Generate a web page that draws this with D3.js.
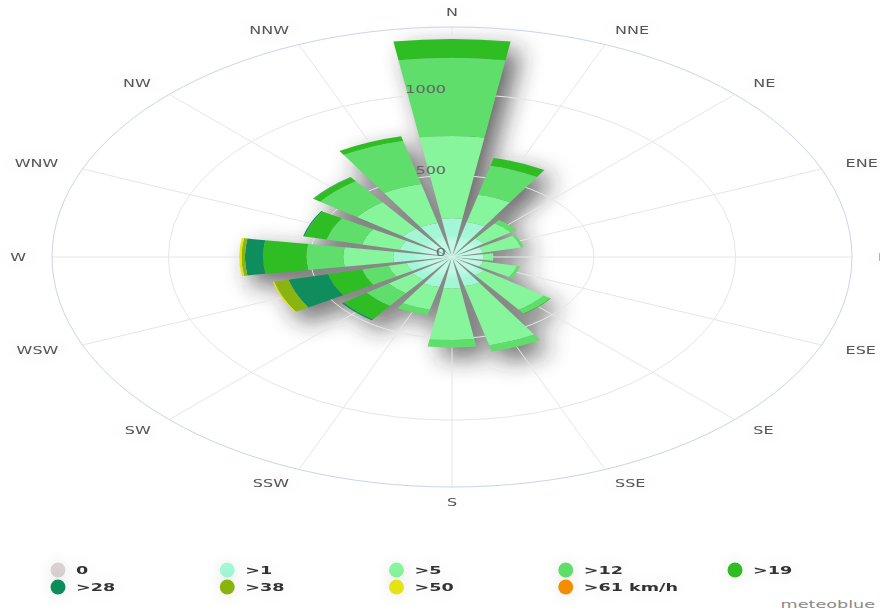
<!DOCTYPE html>
<html><head><meta charset="utf-8">
<script src="https://cdn.jsdelivr.net/npm/d3@7"></script>
<style>
html,body{margin:0;padding:0;background:#fff;}
svg{display:block;font-family:"DejaVu Sans",Verdana,sans-serif;}
</style></head><body>
<svg id="chart" width="880" height="616"></svg>
<script>
// ---- data ----
const directions = ["N","NNE","NE","ENE","E","ESE","SE","SSE","S","SSW","SW","WSW","W","WNW","NW","NNW"];
const speedBins = ["0", ">1", ">5", ">12", ">19", ">28", ">38", ">50", ">61 km/h"];
const calm   = [0,0,0,0,0,0,0,0,0,0,0,0,0,0,0,0];
const over1  = [237,220,140,113,110,112,140,185,192,190,172,165,207,190,215,215];
const over5  = [505,173,116,137,36,123,260,371,317,143,104,65,176,136,200,245];
const over12 = [479,182,25,10,0,12,28,40,47,35,96,96,130,129,160,272];
const over19 = [116,50,0,0,0,0,4,0,0,0,100,124,153,80,30,30];
const over28 = [0,0,0,0,0,0,0,0,0,0,8,143,64,5,2,0];
const over38 = [0,0,0,0,0,0,0,0,0,0,0,52,12,0,0,0];
const over50 = [0,0,0,0,0,0,0,0,0,0,0,5,8,0,0,0];
const over61 = [0,0,0,0,0,0,0,0,0,0,0,0,0,0,0,0];
const radialTicks = [0, 500, 1000];
const binColors = ["#d8d2d2","#a3f7d6","#87f59b","#5fde6b","#2ebd22","#108d5c","#8ab40f","#e5e216","#f28e05"];

// ---- layout ----
const cx = 452, cy = 257, R = 230, sx = 1.739, tsx = 1.6, maxVal = 1410, labelR = 245;
const series = [calm, over1, over5, over12, over19, over28, over38, over50, over61];
const rows = directions.map((d, i) => {
  const o = {dir: d};
  speedBins.forEach((b, k) => o[b] = series[k][i]);
  return o;
});
const stacked = d3.stack().keys(speedBins)(rows);

const svg = d3.select("#chart");
const defs = svg.append("defs");
const fb = defs.append("filter").attr("id","shadowBlur")
  .attr("x","-60%").attr("y","-60%").attr("width","220%").attr("height","220%");
fb.append("feGaussianBlur").attr("stdDeviation","7 12");

const halo = defs.append("filter").attr("id","halo")
  .attr("x","-100%").attr("y","-150%").attr("width","300%").attr("height","400%");
halo.append("feGaussianBlur").attr("in","SourceAlpha").attr("stdDeviation","7").attr("result","b");
halo.append("feColorMatrix").attr("in","b").attr("type","matrix")
  .attr("values","0 0 0 0 0  0 0 0 0 0  0 0 0 0 0  0 0 0 0.10 0").attr("result","s");
const hm = halo.append("feMerge");
hm.append("feMergeNode").attr("in","s");
hm.append("feMergeNode").attr("in","SourceGraphic");

const rScale = d3.scaleLinear().domain([0, maxVal]).range([0, R]);
const angle = d3.scaleBand().domain(directions)
  .range([-Math.PI/16, 2*Math.PI - Math.PI/16]).paddingInner(0.21).paddingOuter(0.105);

const grad = defs.append("radialGradient").attr("id","innerGrad")
  .attr("gradientUnits","userSpaceOnUse").attr("cx",0).attr("cy",0).attr("r", rScale(240));
[[0,"#c6faea"],[0.38,"#c0f9e6"],[0.58,"#a3f7d6"],[1,"#a3f7d6"]].forEach(([o,c]) =>
  grad.append("stop").attr("offset", o).attr("stop-color", c));

const arc = d3.arc()
  .innerRadius(d => rScale(d[0]))
  .outerRadius(d => rScale(d[1]))
  .startAngle(d => angle(d.data.dir))
  .endAngle(d => angle(d.data.dir) + angle.bandwidth());

const centerAngle = d => angle(d) + angle.bandwidth()/2;

// ---- shadow ----
const shadowG = svg.append("g")
  .attr("transform", `translate(${cx+11},${cy+10}) scale(${sx},1)`)
  .attr("filter","url(#shadowBlur)").attr("opacity",0.68);
shadowG.selectAll("path").data(stacked[stacked.length-1])
  .join("path").attr("d", d => arc({0:0, 1:d[1], data:d.data})).attr("fill","#222");

// ---- grid ----
const grid = svg.append("g");
grid.selectAll("ellipse.ring").data(radialTicks.filter(v => v > 0)).join("ellipse")
  .attr("cx", cx).attr("cy", cy)
  .attr("rx", v => rScale(v)*sx).attr("ry", v => rScale(v))
  .attr("fill","none").attr("stroke","#e6e6e6").attr("stroke-width",1);
grid.selectAll("line.spoke").data(directions).join("line")
  .attr("x1", cx).attr("y1", cy)
  .attr("x2", d => cx + R*Math.sin(centerAngle(d))*sx)
  .attr("y2", d => cy - R*Math.cos(centerAngle(d)))
  .attr("stroke","#e6e6e6").attr("stroke-width",1);
grid.append("ellipse").attr("cx",cx).attr("cy",cy).attr("rx",R*sx).attr("ry",R)
  .attr("fill","none").attr("stroke","#ccd3ec").attr("stroke-width",1);

// ---- bars ----
const barsG = svg.append("g").attr("transform", `translate(${cx},${cy}) scale(${sx},1)`);
barsG.selectAll("g.layer").data(stacked).join("g")
  .attr("fill", (s, k) => k === 1 ? "url(#innerGrad)" : binColors[k])
  .selectAll("path").data(s => s.filter(d => d[1] - d[0] > 0))
  .join("path").attr("d", arc);

// ---- direction labels ----
svg.append("g").selectAll("g").data(directions).join("g")
  .attr("transform", d => {
    const a = centerAngle(d);
    return `translate(${cx + labelR*Math.sin(a)*sx},${cy - labelR*Math.cos(a)}) scale(${tsx},1)`;
  })
  .append("text")
  .attr("text-anchor", d => {
    const s = Math.sin(centerAngle(d));
    return s > 0.01 ? "start" : (s < -0.01 ? "end" : "middle");
  })
  .attr("dy","0.35em").attr("font-size",10).attr("fill","#555")
  .attr("filter","url(#halo)")
  .text(d => d);

// ---- radial tick labels ----
svg.append("g").selectAll("g").data(radialTicks).join("g")
  .attr("transform", v => `translate(${cx-6},${cy - rScale(v) - 1}) scale(${tsx},1)`)
  .append("text").attr("text-anchor","end").attr("font-size",10).attr("fill","#666")
  .text(v => v);

// ---- legend ----
const legX = d3.scalePoint().domain(d3.range(5)).range([58, 735]);
const legend = svg.append("g").selectAll("g").data(speedBins).join("g")
  .attr("transform", (d, i) => `translate(${legX(i % 5)},${570 + Math.floor(i/5)*17})`)
  .attr("filter","url(#halo)");
legend.append("circle").attr("r",7.5).attr("fill", (d, i) => binColors[i]);
legend.append("g").attr("transform", `translate(18,0) scale(${tsx},1)`)
  .append("text").attr("dy","0.36em").attr("font-size",11).attr("font-weight","bold")
  .attr("fill","#333").text(d => d);

svg.append("g").attr("transform", `translate(875,608) scale(${tsx},1)`)
  .append("text").attr("text-anchor","end").attr("font-size",11).attr("fill","#8a8a8a")
  .text("meteoblue");
</script>
</body></html>
